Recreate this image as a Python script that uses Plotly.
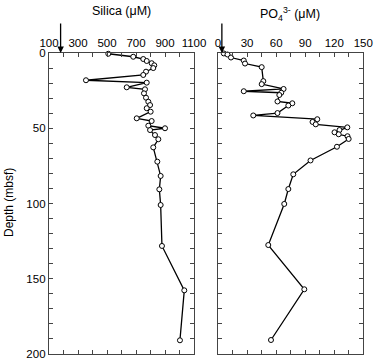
import plotly.graph_objects as go

# ---- data ----
silica_depth = [0.5, 2.5, 4.0, 5.3, 6.8, 8.2, 10.0, 12.4, 14.6, 18.1, 19.7, 22.8, 24.1, 26.8,
                29.7, 32.4, 34.6, 36.7, 39.0, 43.4, 45.2, 48.3, 50.0, 51.2, 54.5, 57.3, 62.7,
                72.2, 81.7, 90.6, 101.0, 128.2, 157.7, 190.9]
silica_val = [509, 681, 750, 774, 808, 826, 819, 769, 750, 355, 774, 636, 762, 755,
              769, 785, 797, 774, 801, 705, 808, 785, 900, 797, 831, 854, 819,
              847, 870, 861, 870, 879, 1033, 1003]

po4_depth = [0.3, 1.0, 3.0, 5.0, 7.0, 9.4, 18.7, 20.7, 23.9, 25.4, 26.4, 27.9, 32.2, 33.4,
             34.9, 39.9, 41.5, 44.0, 45.8, 47.4, 49.4, 51.2, 52.7, 54.0, 55.3, 57.1, 62.3,
             71.4, 80.6, 90.4, 100.3, 127.6, 157.0, 190.7]
po4_val = [6.0, 9.8, 13.4, 26.6, 27.9, 45.1, 46.8, 45.1, 67.7, 26.6, 65.3, 63.3, 61.4, 76.7,
           72.6, 61.4, 36.4, 102.5, 97.6, 100.9, 133.5, 125.4, 120.3, 124.6, 133.7, 134.9, 122.8,
           95.5, 77.7, 72.6, 68.4, 51.9, 89.1, 54.7]

silica_seawater = 180
po4_seawater = 4

silica_ticks = list(range(100, 1101, 100))
silica_labels = [str(v) if (v - 100) % 200 == 0 else "" for v in silica_ticks]
po4_ticks = list(range(0, 151, 15))
po4_labels = [str(v) if v % 30 == 0 else "" for v in po4_ticks]
depth_ticks = list(range(0, 201, 10))
depth_labels = [str(v) if v % 50 == 0 else "" for v in depth_ticks]

FONT = "Liberation Sans, Arial, Helvetica, sans-serif"
W, H = 374, 364

def px(x):
    return x / W

def py(y):
    return 1 - y / H

fig = go.Figure()
marker = dict(symbol="circle", size=5, color="white", line=dict(color="black", width=1))
fig.add_trace(go.Scatter(x=silica_val, y=silica_depth, mode="lines+markers",
                         line=dict(color="black", width=1.3), marker=marker,
                         xaxis="x", yaxis="y", showlegend=False, cliponaxis=False))
fig.add_trace(go.Scatter(x=po4_val, y=po4_depth, mode="lines+markers",
                         line=dict(color="black", width=1.3), marker=marker,
                         xaxis="x2", yaxis="y2", showlegend=False, cliponaxis=False))

axcommon = dict(showline=True, linecolor="#444", linewidth=1.3, mirror="ticks",
                ticks="inside", ticklen=4, tickwidth=1, tickcolor="#444",
                showgrid=False, zeroline=False, automargin=False,
                tickfont=dict(family=FONT, size=11.5, color="black"))

fig.update_layout(
    width=W, height=H, autosize=False,
    margin=dict(l=0, r=0, t=0, b=0, pad=0),
    paper_bgcolor="white", plot_bgcolor="white",
    xaxis=dict(domain=[px(49), px(194)], range=[100, 1100], side="top",
               tickmode="array", tickvals=silica_ticks, ticktext=silica_labels,
               anchor="y", **axcommon),
    yaxis=dict(domain=[py(354), py(53)], range=[200, 0],
               tickmode="array", tickvals=depth_ticks, ticktext=depth_labels,
               anchor="x", **axcommon),
    xaxis2=dict(domain=[px(218), px(363.3)], range=[0, 150], side="top",
                tickmode="array", tickvals=po4_ticks, ticktext=po4_labels,
                anchor="y2", **axcommon),
    yaxis2=dict(domain=[py(354), py(53)], range=[200, 0],
                tickmode="array", tickvals=depth_ticks, showticklabels=False,
                anchor="x2", **axcommon),
)

# titles
fig.add_annotation(text="Silica (μM)", xref="paper", yref="paper",
                   x=px(121.5), y=py(11), xanchor="center", yanchor="middle",
                   showarrow=False, font=dict(family=FONT, size=12.5, color="black"))
fig.add_annotation(text="PO<sub>4</sub><sup>3-</sup> (μM)", xref="paper", yref="paper",
                   x=px(290), y=py(14), xanchor="center", yanchor="middle",
                   showarrow=False, font=dict(family=FONT, size=12.5, color="black"))
fig.add_annotation(text="Depth (mbsf)", xref="paper", yref="paper",
                   x=px(9), y=py(203), xanchor="center", yanchor="middle", textangle=-90,
                   showarrow=False, font=dict(family=FONT, size=12, color="black"))

# seawater arrows
for xr, yr, val in [("x", "y", silica_seawater), ("x2", "y2", po4_seawater)]:
    fig.add_annotation(x=val, y=0, xref=xr, yref=yr, ax=0, ay=-31,
                       showarrow=True, arrowhead=2, arrowsize=1, arrowwidth=1.3,
                       arrowcolor="black", text="", standoff=0)

fig.write_html("out.html", config={"displayModeBar": False},
               post_script="document.body.style.margin='0';document.body.style.overflow='hidden';")
